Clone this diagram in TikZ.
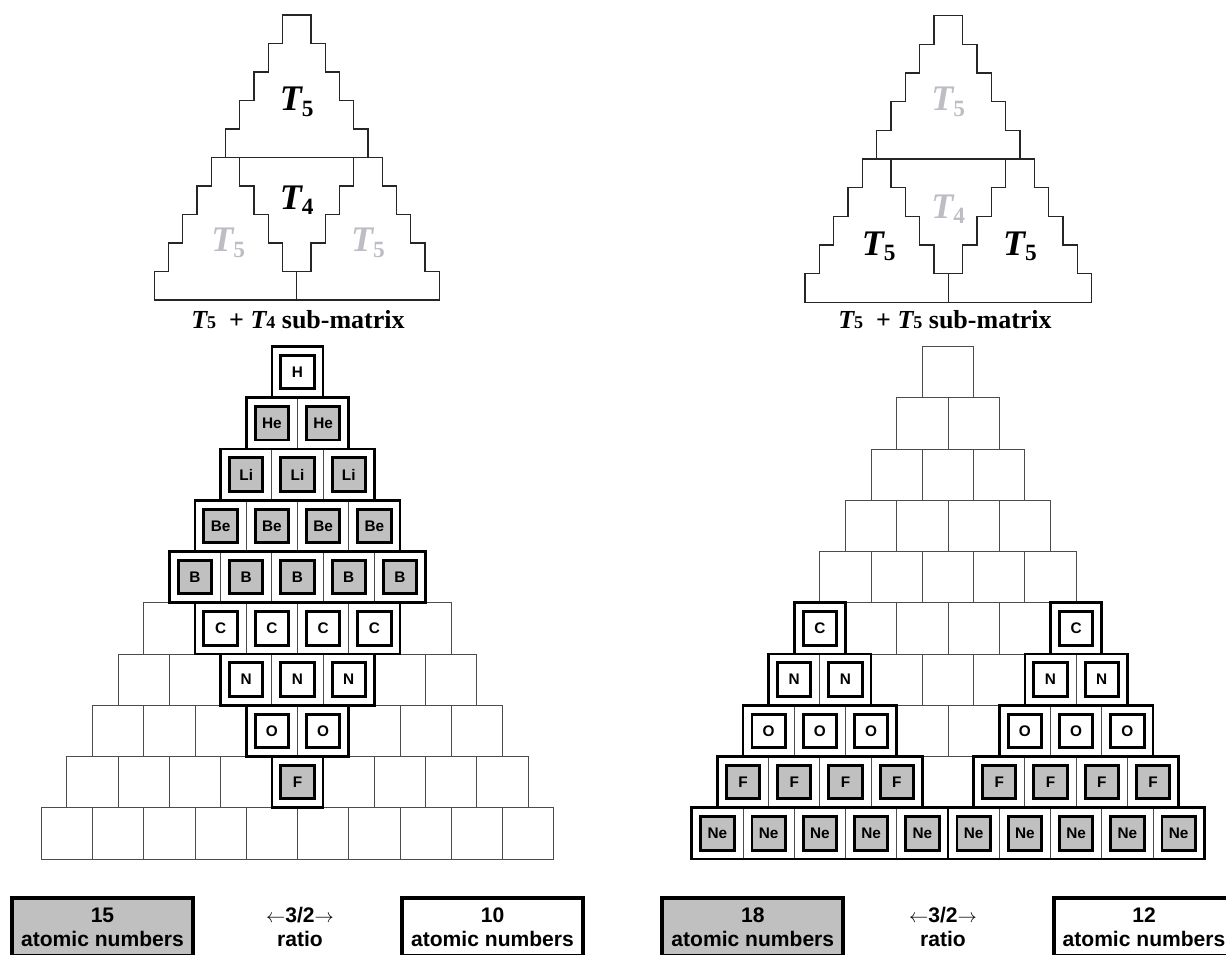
\documentclass[tikz,border=0pt]{standalone}
\usepackage{fontspec}
\setmainfont{Liberation Serif}
\setsansfont{Liberation Sans}
\usepackage{tikz}
\usetikzlibrary{positioning}
\definecolor{cellgray}{RGB}{192,192,192}
\definecolor{ghost}{RGB}{188,190,196}

\tikzset{
  cell/.style={draw=black!70, line width=0.6pt, minimum size=38.44pt, inner sep=0pt, outer sep=0pt},
  atom/.style={draw=black, fill=white, line width=2.2pt, minimum size=25pt, inner sep=0pt,
    font=\sffamily\bfseries\fontsize{11.5}{13}\selectfont},
  atomgray/.style={atom, fill=cellgray},
  group/.style={draw=black, line width=2pt},
  stairs/.style={draw=black!85, line width=1pt},
  bigT/.style={font=\bfseries\fontsize{27}{29}\selectfont, inner sep=0pt},
  caption/.style={font=\bfseries\fontsize{19.5}{21}\selectfont, inner sep=0pt},
  countbox/.style={draw=black, line width=3pt, minimum width=135.75pt, minimum height=43.5pt,
    align=center, font=\sffamily\bfseries\fontsize{15.8}{18.2}\selectfont},
  ratiotext/.style={align=center, font=\sffamily\bfseries\fontsize{15.8}{18.2}\selectfont}
}
\newcommand{\Tsub}[1]{{\itshape T}\raisebox{-4pt}{\fontsize{17.5}{17.5}\selectfont #1}}
\newcommand{\Tcap}[1]{{\itshape T}{\fontsize{13.5}{13.5}\selectfont #1}}
\newcommand{\stairlines}{%
  \draw[stairs] (-5,0) \foreach \k in {1,...,9} {-- ++(0,1) -- ++(0.5,0)} -- ++(0,1) -- ++(1,0)
    \foreach \k in {1,...,9} {-- ++(0,-1) -- ++(0.5,0)} -- ++(0,-1) -- cycle;
  \draw[stairs] (-3,5) -- (3,5);
  \draw[stairs] (-2,5) -- (-2,4) -- (-1.5,4) -- (-1.5,3) -- (-1,3) -- (-1,2) -- (-0.5,2) -- (-0.5,1)
    -- (0.5,1) -- (0.5,2) -- (1,2) -- (1,3) -- (1.5,3) -- (1.5,4) -- (2,4) -- (2,5);
  \draw[stairs] (0,1) -- (0,0);
}

\begin{document}
\begin{tikzpicture}[x=0.75pt, y=0.75pt]
  \useasboundingbox (0,0) rectangle (1226,955);

  % T5 + T4 outline
  \begin{scope}[shift={(222.5pt,491.25pt)}, x=21.375pt, y=21.375pt]
    \stairlines
    \node[bigT] (tl-top) at (0,6.95) {\Tsub{5}};
    \node[bigT] (tl-mid) at (0,3.5) {\Tsub{4}};
    \node[bigT, ghost] (tl-left) at (-2.4,2) {\Tsub{5}};
    \node[bigT, ghost] (tl-right) at (2.5,2) {\Tsub{5}};
  \end{scope}
  \node[caption] (cap-left) at (298,635) {\Tcap{5}\ \ + \Tcap{4} sub-matrix};

  % T5 + T5 outline
  \begin{scope}[shift={(711.2pt,489.4pt)}, x=21.5pt, y=21.5pt]
    \stairlines
    \node[bigT, ghost] (tr-top) at (0,7) {\Tsub{5}};
    \node[bigT, ghost] (tr-mid) at (0,3.25) {\Tsub{4}};
    \node[bigT] (tr-left) at (-2.43,1.95) {\Tsub{5}};
    \node[bigT] (tr-right) at (2.5,1.95) {\Tsub{5}};
  \end{scope}
  \node[caption] (cap-right) at (945,635) {\Tcap{5}\ \ + \Tcap{5} sub-matrix};

  % cell grids
  \foreach \r in {1,...,10} {
    \foreach \i in {1,...,\r} {
      \node[cell] (L-\r-\i) at ({297.5+(\i-(\r+1)/2)*51.25}, {96+(10.5-\r)*51.25}) {};
      \node[cell] (R-\r-\i) at ({948+(\i-(\r+1)/2)*51.25}, {96+(10.5-\r)*51.25}) {};
    }
  }

  % left matrix: upper T5 and inverted T4
  \foreach \r/\el/\sh in {1/H/atom, 2/He/atomgray, 3/Li/atomgray, 4/Be/atomgray, 5/B/atomgray} {
    \draw[group] (L-\r-1.north west) rectangle (L-\r-\r.south east);
    \foreach \i in {1,...,\r}
      \node[\sh] (LA-\r-\i) at (L-\r-\i) {\el};
  }
  \foreach \r/\el/\sh in {6/C/atom, 7/N/atom, 8/O/atom, 9/F/atomgray} {
    \pgfmathtruncatemacro{\a}{\r-4}
    \draw[group] (L-\r-\a.north west) rectangle (L-\r-5.south east);
    \foreach \i in {\a,...,5}
      \node[\sh] (LA-\r-\i) at (L-\r-\i) {\el};
  }

  % right matrix: two lower T5
  \foreach \r/\el/\sh in {6/C/atom, 7/N/atom, 8/O/atom, 9/F/atomgray, 10/Ne/atomgray} {
    \pgfmathtruncatemacro{\a}{\r-5}
    \draw[group] (R-\r-1.north west) rectangle (R-\r-\a.south east);
    \draw[group] (R-\r-6.north west) rectangle (R-\r-\r.south east);
    \foreach \i in {1,...,\a}
      \node[\sh] (RA-\r-\i) at (R-\r-\i) {\el};
    \foreach \i in {6,...,\r}
      \node[\sh] (RA-\r-\i) at (R-\r-\i) {\el};
  }

  % counts
  \node[countbox, fill=cellgray] (left-num) at (102.5,28) {15\\atomic numbers};
  \node[ratiotext] (left-ratio) at (300,28) {$\leftarrow$3/2$\rightarrow$\\ratio};
  \node[countbox, fill=white] (left-den) at (492.5,28) {10\\atomic numbers};
  \node[countbox, fill=cellgray] (right-num) at (752.8,28) {18\\atomic numbers};
  \node[ratiotext] (right-ratio) at (943,28) {$\leftarrow$3/2$\rightarrow$\\ratio};
  \node[countbox, fill=white] (right-den) at (1144,28) {12\\atomic numbers};
\end{tikzpicture}
\end{document}
